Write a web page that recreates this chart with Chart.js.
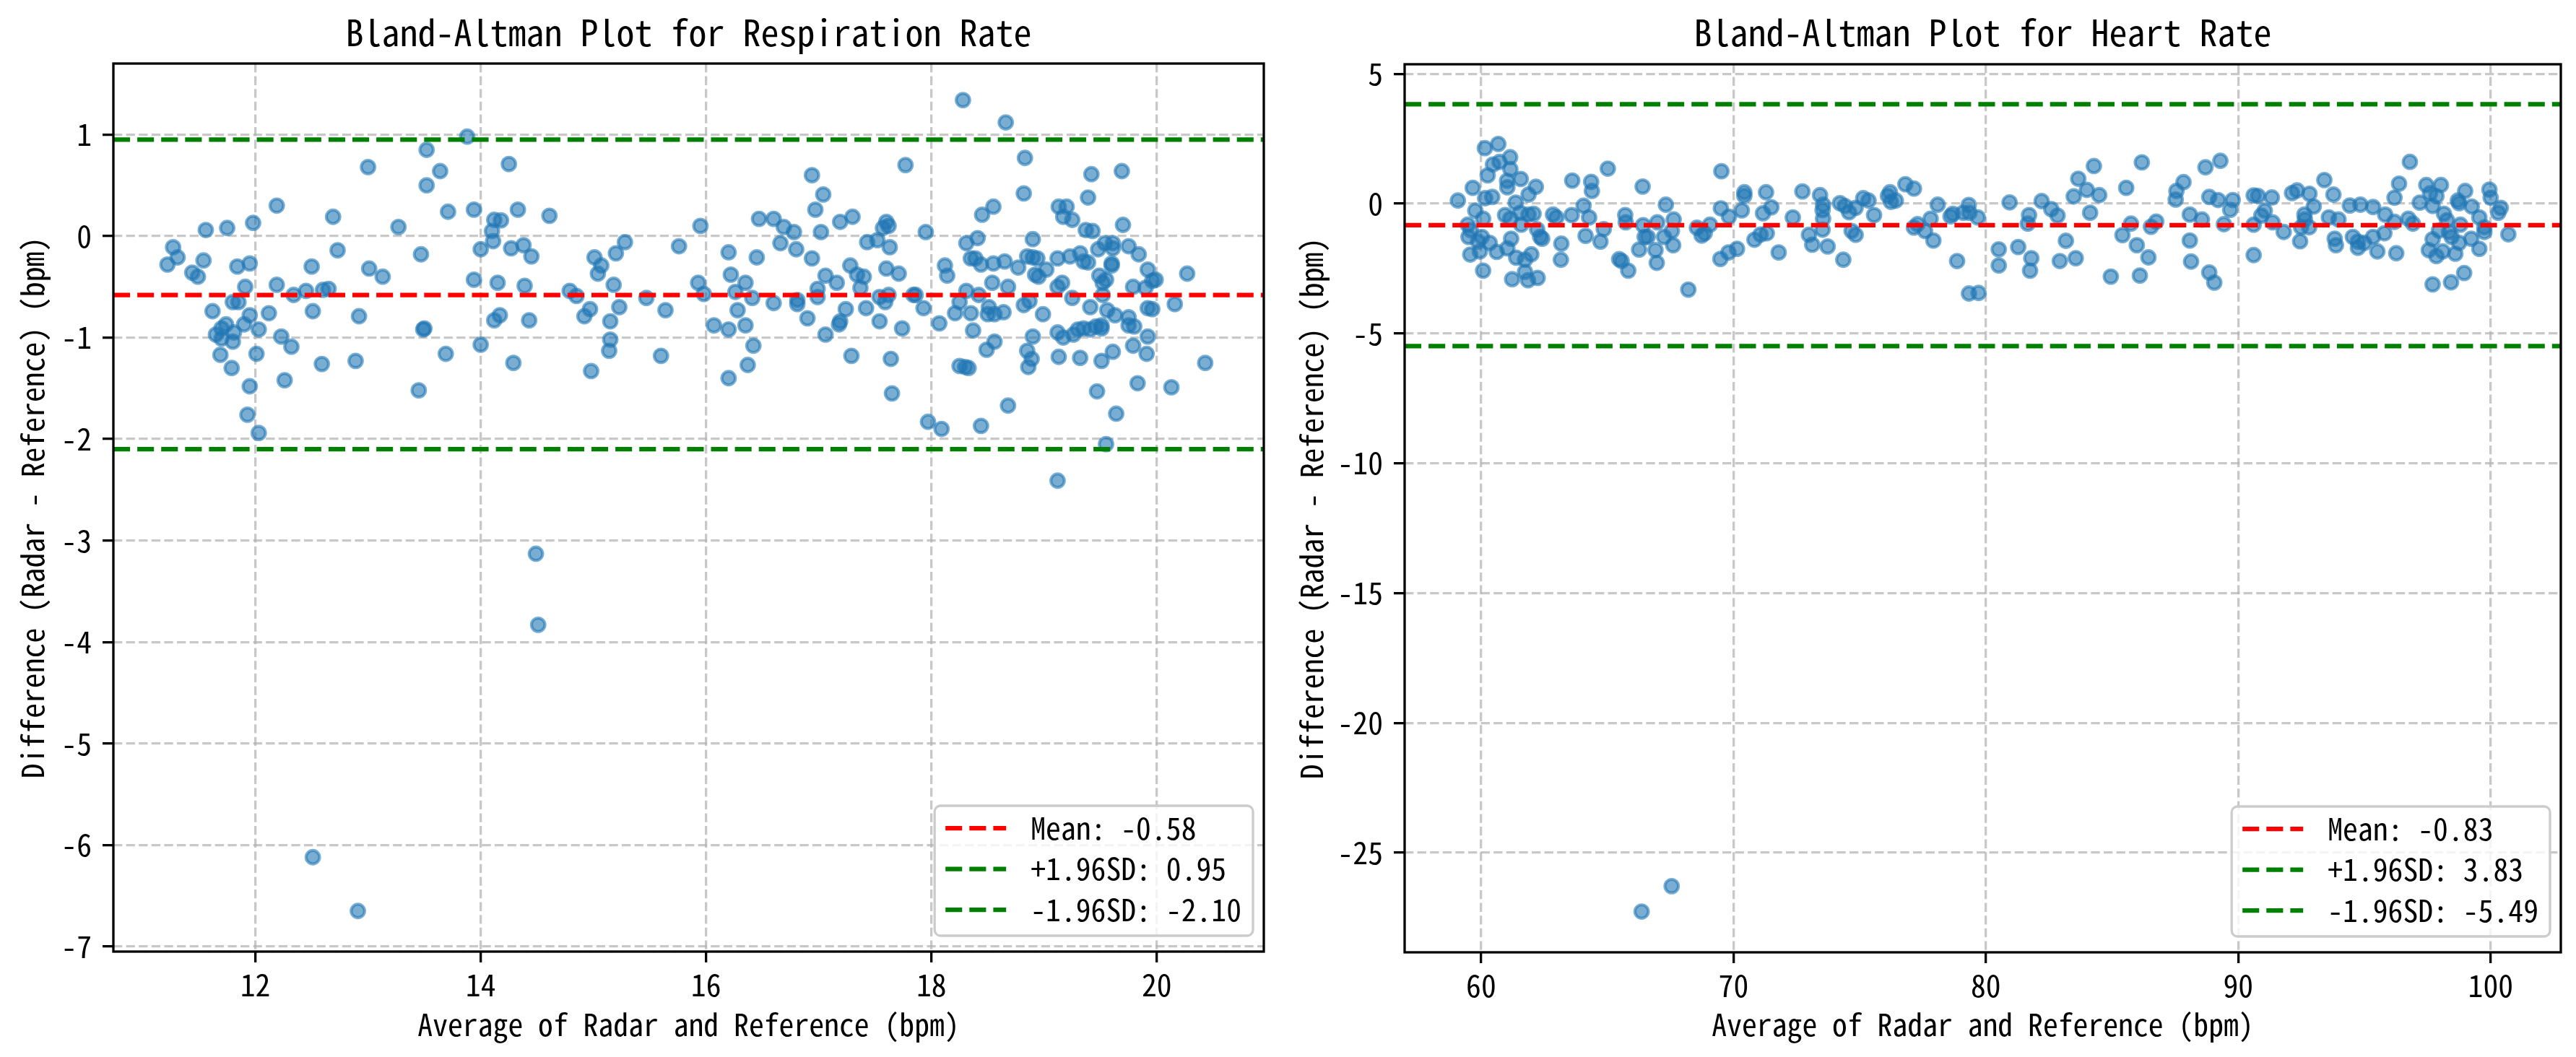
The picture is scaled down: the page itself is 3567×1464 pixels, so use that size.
<!DOCTYPE html>
<html>
<head>
<meta charset="utf-8">
<script src="https://cdn.jsdelivr.net/npm/chart.js@4.4.1/dist/chart.umd.min.js"></script>
<style>
html, body { margin: 0; padding: 0; background: #fff; overflow: hidden; }
canvas { position: absolute; top: 0; }
#leftChart { left: 0; }
#rightChart { left: 1780px; }
</style>
</head>
<body>
<canvas id="leftChart" width="1790" height="1464"></canvas>
<canvas id="rightChart" width="1787" height="1464"></canvas>
<script>
'use strict';

// respiration rate: [average, difference]
var respPoints = [
  [13.88,0.98],[13.52,0.85],[13.00,0.68],[13.64,0.64],[14.25,0.71],[13.52,0.50],[12.19,0.30],[12.69,0.19],
  [13.71,0.24],[13.94,0.26],[14.33,0.26],[14.12,0.16],[14.18,0.155],[14.10,0.05],[14.11,-0.05],[13.27,0.09],
  [11.98,0.13],[11.75,0.08],[11.56,0.06],[11.27,-0.11],[11.31,-0.21],[11.22,-0.28],[11.54,-0.24],[11.44,-0.36],
  [11.49,-0.40],[11.84,-0.30],[11.95,-0.27],[12.50,-0.30],[12.73,-0.14],[13.47,-0.18],[13.01,-0.32],[13.13,-0.40],
  [14.00,-0.13],[14.27,-0.12],[14.38,-0.09],[14.45,-0.20],[13.94,-0.43],[14.15,-0.46],[14.39,-0.49],[11.91,-0.50],
  [12.19,-0.48],[12.34,-0.58],[12.45,-0.54],[12.60,-0.53],[12.65,-0.52],[11.80,-0.65],[11.85,-0.65],[11.62,-0.74],
  [11.95,-0.78],[11.90,-0.87],[12.12,-0.76],[12.51,-0.74],[12.92,-0.79],[13.49,-0.92],[13.50,-0.91],[14.12,-0.83],
  [14.17,-0.78],[14.43,-0.83],[11.74,-0.87],[11.70,-0.91],[11.65,-0.97],[11.81,-0.95],[11.70,-1.01],[11.80,-1.04],
  [12.03,-0.92],[12.23,-0.99],[12.32,-1.09],[11.69,-1.17],[12.01,-1.16],[11.79,-1.30],[12.59,-1.26],[12.89,-1.23],
  [13.69,-1.16],[14.00,-1.07],[14.29,-1.25],[12.26,-1.42],[11.95,-1.48],[13.45,-1.52],[11.93,-1.76],[12.03,-1.94],
  [17.77,0.70],[16.94,0.60],[17.04,0.41],[16.97,0.26],[14.61,0.20],[15.95,0.10],[16.47,0.17],[16.60,0.17],
  [16.69,0.09],[16.78,0.04],[17.19,0.14],[17.30,0.19],[17.02,0.04],[17.60,0.14],[17.57,0.08],[17.62,0.10],
  [16.66,-0.07],[16.80,-0.13],[17.43,-0.06],[17.52,-0.04],[17.63,-0.11],[15.76,-0.10],[15.28,-0.06],[15.20,-0.17],
  [15.01,-0.21],[15.07,-0.29],[15.04,-0.37],[16.20,-0.16],[16.45,-0.21],[16.94,-0.22],[16.22,-0.38],[16.35,-0.46],
  [17.28,-0.29],[17.34,-0.38],[17.40,-0.40],[17.06,-0.39],[17.16,-0.46],[17.60,-0.32],[17.71,-0.37],[15.18,-0.48],
  [14.79,-0.54],[14.85,-0.59],[15.93,-0.46],[15.98,-0.57],[16.26,-0.55],[17.37,-0.51],[16.99,-0.52],[16.99,-0.60],
  [15.47,-0.61],[16.41,-0.61],[16.81,-0.63],[16.81,-0.67],[17.54,-0.60],[17.59,-0.65],[17.62,-0.58],[17.84,-0.58],
  [15.23,-0.70],[14.97,-0.72],[14.92,-0.79],[16.60,-0.66],[17.24,-0.72],[17.42,-0.71],[15.64,-0.73],[16.28,-0.73],
  [15.15,-0.84],[16.90,-0.81],[16.35,-0.88],[16.07,-0.88],[16.20,-0.92],[17.19,-0.84],[17.18,-0.87],[17.54,-0.84],
  [17.74,-0.91],[17.06,-0.97],[15.15,-1.02],[15.14,-1.13],[16.42,-1.08],[15.60,-1.18],[17.29,-1.18],[17.64,-1.21],
  [16.37,-1.27],[14.98,-1.33],[16.20,-1.40],[17.65,-1.55],
  [18.28,1.34],[18.66,1.12],[18.83,0.77],[19.42,0.61],[19.69,0.64],[18.82,0.42],[19.39,0.38],[18.45,0.21],
  [18.55,0.29],[19.13,0.29],[19.20,0.29],[19.17,0.19],[19.25,0.16],[19.70,0.11],[17.95,0.04],[19.37,0.06],
  [19.43,0.05],[18.90,-0.03],[18.31,-0.07],[18.41,-0.02],[19.48,-0.13],[19.54,-0.07],[19.61,-0.07],[19.61,-0.12],
  [19.75,-0.10],[19.84,-0.18],[18.35,-0.22],[18.39,-0.22],[18.44,-0.28],[18.55,-0.27],[18.65,-0.25],[18.85,-0.20],
  [18.90,-0.21],[18.94,-0.22],[19.12,-0.22],[19.23,-0.20],[19.32,-0.17],[19.35,-0.25],[19.39,-0.26],[19.60,-0.27],
  [19.60,-0.29],[18.12,-0.29],[18.14,-0.39],[18.77,-0.31],[19.02,-0.33],[18.92,-0.38],[18.95,-0.40],[18.54,-0.46],
  [18.68,-0.50],[19.16,-0.46],[19.12,-0.50],[19.92,-0.33],[19.99,-0.43],[19.96,-0.44],[19.79,-0.50],[19.90,-0.51],
  [19.49,-0.39],[19.55,-0.43],[19.52,-0.46],[20.27,-0.37],[17.86,-0.58],[18.31,-0.54],[18.42,-0.58],[19.25,-0.61],
  [19.52,-0.58],[17.93,-0.71],[18.25,-0.65],[18.21,-0.76],[18.35,-0.76],[18.51,-0.70],[18.50,-0.77],[18.56,-0.77],
  [18.64,-0.75],[18.82,-0.68],[18.87,-0.64],[18.99,-0.77],[19.41,-0.70],[19.56,-0.73],[19.63,-0.78],[19.75,-0.80],
  [19.75,-0.88],[19.80,-0.89],[19.92,-0.71],[19.96,-0.72],[20.16,-0.67],[18.07,-0.86],[18.37,-0.93],[19.12,-0.95],
  [19.17,-1.00],[19.26,-0.97],[19.30,-0.92],[19.35,-0.91],[19.41,-0.92],[19.46,-0.89],[19.51,-0.88],[19.51,-0.91],
  [18.90,-0.99],[19.92,-0.99],[18.56,-1.04],[18.49,-1.12],[18.85,-1.13],[18.89,-1.21],[18.86,-1.29],[19.13,-1.19],
  [19.32,-1.20],[19.51,-1.23],[19.61,-1.14],[19.79,-1.08],[19.91,-1.16],[20.43,-1.25],[18.25,-1.28],[18.30,-1.29],
  [18.33,-1.30],[19.47,-1.53],[19.83,-1.45],[20.13,-1.49],[18.68,-1.67],[17.97,-1.83],[18.09,-1.90],[18.44,-1.87],
  [19.64,-1.75],[19.55,-2.05],[19.12,-2.41],
  [12.51,-6.12],[12.91,-6.65],[14.49,-3.13],[14.51,-3.83]
];
var respMean = -0.58;
var respUpper = 0.95;
var respLower = -2.10;
var respXTicks = [12, 14, 16, 18, 20];
var respYTicks = [-7, -6, -5, -4, -3, -2, -1, 0, 1];
var respXRange = [10.74, 20.95];
var respYRange = [-7.05, 1.70];

// heart rate: [average, difference]
var heartPoints = [
  [59.08,0.12],[59.67,0.61],[60.15,2.14],[60.68,2.30],[60.47,1.51],[60.73,1.61],[61.15,1.79],[61.16,1.33],
  [60.26,1.09],[61.03,0.88],[61.04,0.63],[61.57,0.95],[62.17,0.65],[61.88,0.35],[60.44,0.26],[60.16,0.21],
  [61.37,0.04],[59.77,-0.27],[60.08,-0.58],[59.47,-0.81],[59.59,-1.02],[59.50,-1.28],[60.03,-1.28],[60.34,-1.51],
  [59.88,-1.46],[59.57,-1.96],[59.95,-1.84],[60.08,-2.58],[60.62,-1.86],[60.95,-0.44],[61.16,-0.58],[61.55,-0.35],
  [61.59,-0.81],[61.88,-0.42],[62.08,-0.39],[61.19,-1.35],[61.04,-1.72],[61.39,-2.08],[61.99,-1.95],[61.74,-2.16],
  [61.74,-2.63],[61.23,-2.91],[61.86,-2.95],[62.24,-2.86],[62.22,-0.99],[62.42,-1.35],[62.34,-1.28],[62.85,-0.42],
  [62.98,-0.53],[63.59,-0.44],[63.18,-1.54],[63.16,-2.16],[63.61,0.89],[64.36,0.84],[64.39,0.49],[64.06,-0.08],
  [64.28,-0.53],[64.14,-1.24],[64.86,-0.98],[64.73,-1.46],[65.02,1.35],[65.47,-2.14],[65.57,-2.21],[65.83,-2.58],
  [65.71,-0.44],[65.73,-0.72],[66.40,0.66],[66.42,-0.83],[66.48,-1.28],[66.60,-1.28],[66.26,-1.77],[66.91,-1.79],
  [66.96,-2.28],[66.98,-0.72],[67.32,-0.04],[67.63,-0.61],[67.56,-1.05],[67.25,-1.28],[67.61,-1.60],[68.21,-3.31],
  [68.55,-0.93],[68.74,-1.23],[68.86,-1.14],[69.07,-0.81],[69.52,1.25],[69.50,-0.18],[69.82,-0.50],[69.48,-2.13],
  [69.80,-1.88],[70.14,-1.74],[70.43,0.44],[70.43,0.30],[70.33,-0.26],[70.83,-1.39],[71.07,-1.19],[71.32,-1.14],
  [71.17,-0.37],[71.29,0.44],[71.50,-0.14],[71.79,-1.88],[72.35,-0.53],
  [72.73,0.47],[73.43,0.33],[73.55,-0.04],[73.53,-0.25],[73.55,-0.58],[73.53,-1.00],[72.99,-1.20],[73.12,-1.58],
  [73.73,-1.65],[74.35,-2.16],[74.22,0.02],[74.42,-0.09],[74.58,-0.33],[74.84,-0.16],[75.14,0.21],[75.35,0.12],
  [74.68,-1.05],[74.84,-1.20],[75.57,-0.44],[76.12,0.30],[76.20,0.44],[76.24,0.07],[76.43,0.12],[76.81,0.75],
  [77.15,0.58],[77.15,-0.92],[77.29,-0.79],[77.59,-1.05],[77.81,-0.58],[77.92,-1.42],[78.09,-0.04],[78.60,-0.49],
  [78.69,-0.39],[79.10,-0.35],[79.32,-0.05],[79.35,-0.35],[79.68,-0.53],[78.86,-2.21],[79.33,-3.46],[79.71,-3.44],
  [80.51,-1.76],[80.51,-2.38],[80.94,0.05],[81.28,-1.67],[81.71,-0.44],[81.66,-0.77],[81.80,-2.10],[81.75,-2.58],
  [82.21,0.10],[82.59,-0.21],[82.84,-0.46],[83.17,-1.43],[82.93,-2.21],[83.56,-2.10],[83.48,0.28],[83.66,0.96],
  [84.00,0.53],[84.28,1.45],[84.49,0.33],[84.13,-0.35],[84.95,-2.81],[85.41,-1.21],[85.56,0.61],[85.75,-0.77],
  [85.98,-1.60],[86.18,1.59],[86.44,-2.07],[86.10,-2.77],[86.54,-0.89],[86.75,-0.69],[87.52,0.16],[87.55,0.49],
  [87.83,0.83],[88.08,-0.42],[88.08,-1.42],[88.13,-2.23],
  [88.70,1.40],[89.29,1.65],[88.85,0.26],[89.20,0.14],[89.78,0.14],[89.68,-0.24],[88.56,-0.61],[89.43,-0.79],
  [88.85,-2.65],[89.05,-3.04],[90.61,0.32],[90.78,0.30],[91.33,0.24],[91.05,-0.27],[90.91,-0.46],[90.61,-0.81],
  [91.36,-0.72],[91.80,-1.09],[90.61,-1.98],[92.13,0.41],[92.33,0.51],[92.82,0.38],[92.99,-0.11],[92.62,-0.42],
  [92.64,-0.61],[92.49,-0.91],[92.81,-0.91],[92.45,-1.45],[93.41,0.91],[93.77,0.35],[93.59,-0.53],[93.97,-0.61],
  [94.42,-0.07],[94.84,-0.04],[95.34,-0.13],[95.82,-0.42],[93.82,-1.35],[93.87,-1.60],[94.54,-1.28],[94.74,-1.46],
  [94.74,-1.70],[94.99,-1.51],[95.34,-1.28],[95.51,-1.84],[95.79,-1.14],[96.19,-0.70],[96.26,-1.91],[96.37,0.77],
  [96.19,0.23],[96.80,1.61],[96.74,-0.58],[96.92,-0.77],[97.19,0.04],[97.45,0.72],[97.60,0.40],[97.85,0.29],
  [98.03,0.72],[97.70,-0.09],[98.15,-0.39],[98.27,-0.64],[97.95,-1.04],[98.35,-1.09],[98.45,-1.28],[97.70,-1.37],
  [97.55,-1.79],[97.85,-2.02],[98.10,-1.84],[98.60,-1.93],[98.75,-1.51],[98.70,0.12],[98.75,0.02],[98.99,0.49],
  [98.80,-0.81],[99.25,-0.11],[99.23,-1.35],[99.55,-1.74],[99.55,-0.53],[99.75,-0.91],[99.75,-1.09],[99.95,0.54],
  [100.00,0.23],[100.40,-0.16],[100.30,-0.35],[100.70,-1.18],[97.70,-3.11],[98.43,-3.03],[98.95,-2.67],
  [66.36,-27.27],[67.55,-26.29]
];
var heartMean = -0.83;
var heartUpper = 3.83;
var heartLower = -5.49;
var heartXTicks = [60, 70, 80, 90, 100];
var heartYTicks = [-25, -20, -15, -10, -5, 0, 5];
var heartXRange = [56.97, 102.78];
var heartYRange = [-28.84, 5.37];

var FONT = '"Noto Sans Mono CJK SC", "Noto Sans CJK SC", "DejaVu Sans Mono", sans-serif';
var FS = 41.7;
var GRID = 'rgba(176,176,176,0.7)';

// frame, title and legend drawn over the chart
var overlay = {
  id: 'overlay',
  afterDraw: function(chart) {
    var ctx = chart.ctx;
    var ca = chart.chartArea;
    var o = chart.options.plugins.overlay;
    ctx.save();
    ctx.setLineDash([]);
    ctx.strokeStyle = '#000';
    ctx.lineWidth = 3.3;
    ctx.strokeRect(ca.left, ca.top, ca.right - ca.left, ca.bottom - ca.top);

    ctx.fillStyle = '#000';
    ctx.font = '50px ' + FONT;
    ctx.textAlign = 'center';
    ctx.textBaseline = 'middle';
    ctx.fillText(o.title, (ca.left + ca.right) / 2, 45);

    // legend
    var lines = chart.data.datasets.filter(function(d) { return d.type === 'line'; });
    ctx.font = FS + 'px ' + FONT;
    var tw = 0;
    lines.forEach(function(d) { tw = Math.max(tw, ctx.measureText(d.label).width); });
    var bw = 133 + tw + 16;
    var bh = 180;
    var bx = ca.right - 15 - bw;
    var by = ca.bottom - 22 - bh;
    ctx.beginPath();
    ctx.roundRect(bx, by, bw, bh, 8);
    ctx.fillStyle = 'rgba(255,255,255,0.8)';
    ctx.fill();
    ctx.strokeStyle = '#cccccc';
    ctx.lineWidth = 3.3;
    ctx.stroke();
    ctx.textAlign = 'left';
    lines.forEach(function(d, i) {
      var yy = by + 31 + i * 56.5;
      ctx.beginPath();
      ctx.setLineDash(d.borderDash);
      ctx.strokeStyle = d.borderColor;
      ctx.lineWidth = d.borderWidth;
      ctx.moveTo(bx + 15, yy);
      ctx.lineTo(bx + 99, yy);
      ctx.stroke();
      ctx.setLineDash([]);
      ctx.fillStyle = '#000';
      ctx.fillText(d.label, bx + 133, yy);
    });
    ctx.restore();
  }
};

function refLine(label, value, color, xr) {
  return {
    type: 'line',
    label: label,
    data: [{x: xr[0], y: value}, {x: xr[1], y: value}],
    borderColor: color,
    borderWidth: 6.25,
    borderDash: [23.1, 10],
    pointRadius: 0,
    fill: false
  };
}

function makeChart(id, pts, mean, upper, lower, xr, yr, xt, yt, lay) {
  var ctx = document.getElementById(id).getContext('2d');
  return new Chart(ctx, {
    type: 'scatter',
    data: {
      datasets: [
        refLine('Mean: ' + mean.toFixed(2), mean, '#ff0000', xr),
        refLine('+1.96SD: ' + upper.toFixed(2), upper, '#008000', xr),
        refLine('-1.96SD: ' + lower.toFixed(2), lower, '#008000', xr),
        {
          type: 'scatter',
          label: 'points',
          data: pts.map(function(p) { return {x: p[0], y: p[1]}; }),
          pointRadius: 9.3,
          pointHoverRadius: 9.3,
          pointBorderWidth: 4.2,
          backgroundColor: 'rgba(31,119,180,0.6)',
          borderColor: 'rgba(31,119,180,0.6)'
        }
      ]
    },
    options: {
      responsive: false,
      animation: false,
      devicePixelRatio: 1,
      layout: { padding: { top: lay.top, right: lay.right, left: 0, bottom: 0 } },
      plugins: {
        legend: { display: false },
        tooltip: { enabled: false },
        overlay: { title: lay.title }
      },
      scales: {
        x: {
          type: 'linear',
          min: xr[0],
          max: xr[1],
          afterBuildTicks: function(s) { s.ticks = xt.map(function(v) { return {value: v}; }); },
          afterFit: function(s) { s.height = lay.xh; },
          grid: { color: GRID, lineWidth: 3.3, tickLength: 15, tickColor: '#000', tickWidth: 3.3, tickBorderDash: [] },
          border: { display: false, dash: [12.3, 5.3] },
          ticks: { font: {family: FONT, size: FS}, color: '#000', padding: 6, maxRotation: 0, autoSkip: false,
                   callback: function(v) { return String(v); } },
          title: { display: true, text: 'Average of Radar and Reference (bpm)', color: '#000',
                   font: {family: FONT, size: FS}, padding: {top: 0, bottom: 20} }
        },
        y: {
          type: 'linear',
          min: yr[0],
          max: yr[1],
          afterBuildTicks: function(s) { s.ticks = yt.map(function(v) { return {value: v}; }); },
          afterFit: function(s) { s.width = lay.yw; },
          grid: { color: GRID, lineWidth: 3.3, tickLength: 15, tickColor: '#000', tickWidth: 3.3, tickBorderDash: [] },
          border: { display: false, dash: [12.3, 5.3] },
          ticks: { font: {family: FONT, size: FS}, color: '#000', padding: 15, autoSkip: false,
                   callback: function(v) { return String(v); } },
          title: { display: true, text: 'Difference (Radar - Reference) (bpm)', color: '#000',
                   font: {family: FONT, size: FS}, padding: {top: lay.ytp, bottom: 0} }
        }
      }
    },
    plugins: [overlay]
  });
}

makeChart('leftChart', respPoints, respMean, respUpper, respLower, respXRange, respYRange, respXTicks, respYTicks,
  {title: 'Bland-Altman Plot for Respiration Rate', top: 88, right: 40, xh: 146, yw: 157, ytp: 20});
makeChart('rightChart', heartPoints, heartMean, heartUpper, heartLower, heartXRange, heartYRange, heartXTicks, heartYTicks,
  {title: 'Bland-Altman Plot for Heart Rate', top: 89, right: 21, xh: 145, yw: 165, ytp: 11});
</script>
</body>
</html>
